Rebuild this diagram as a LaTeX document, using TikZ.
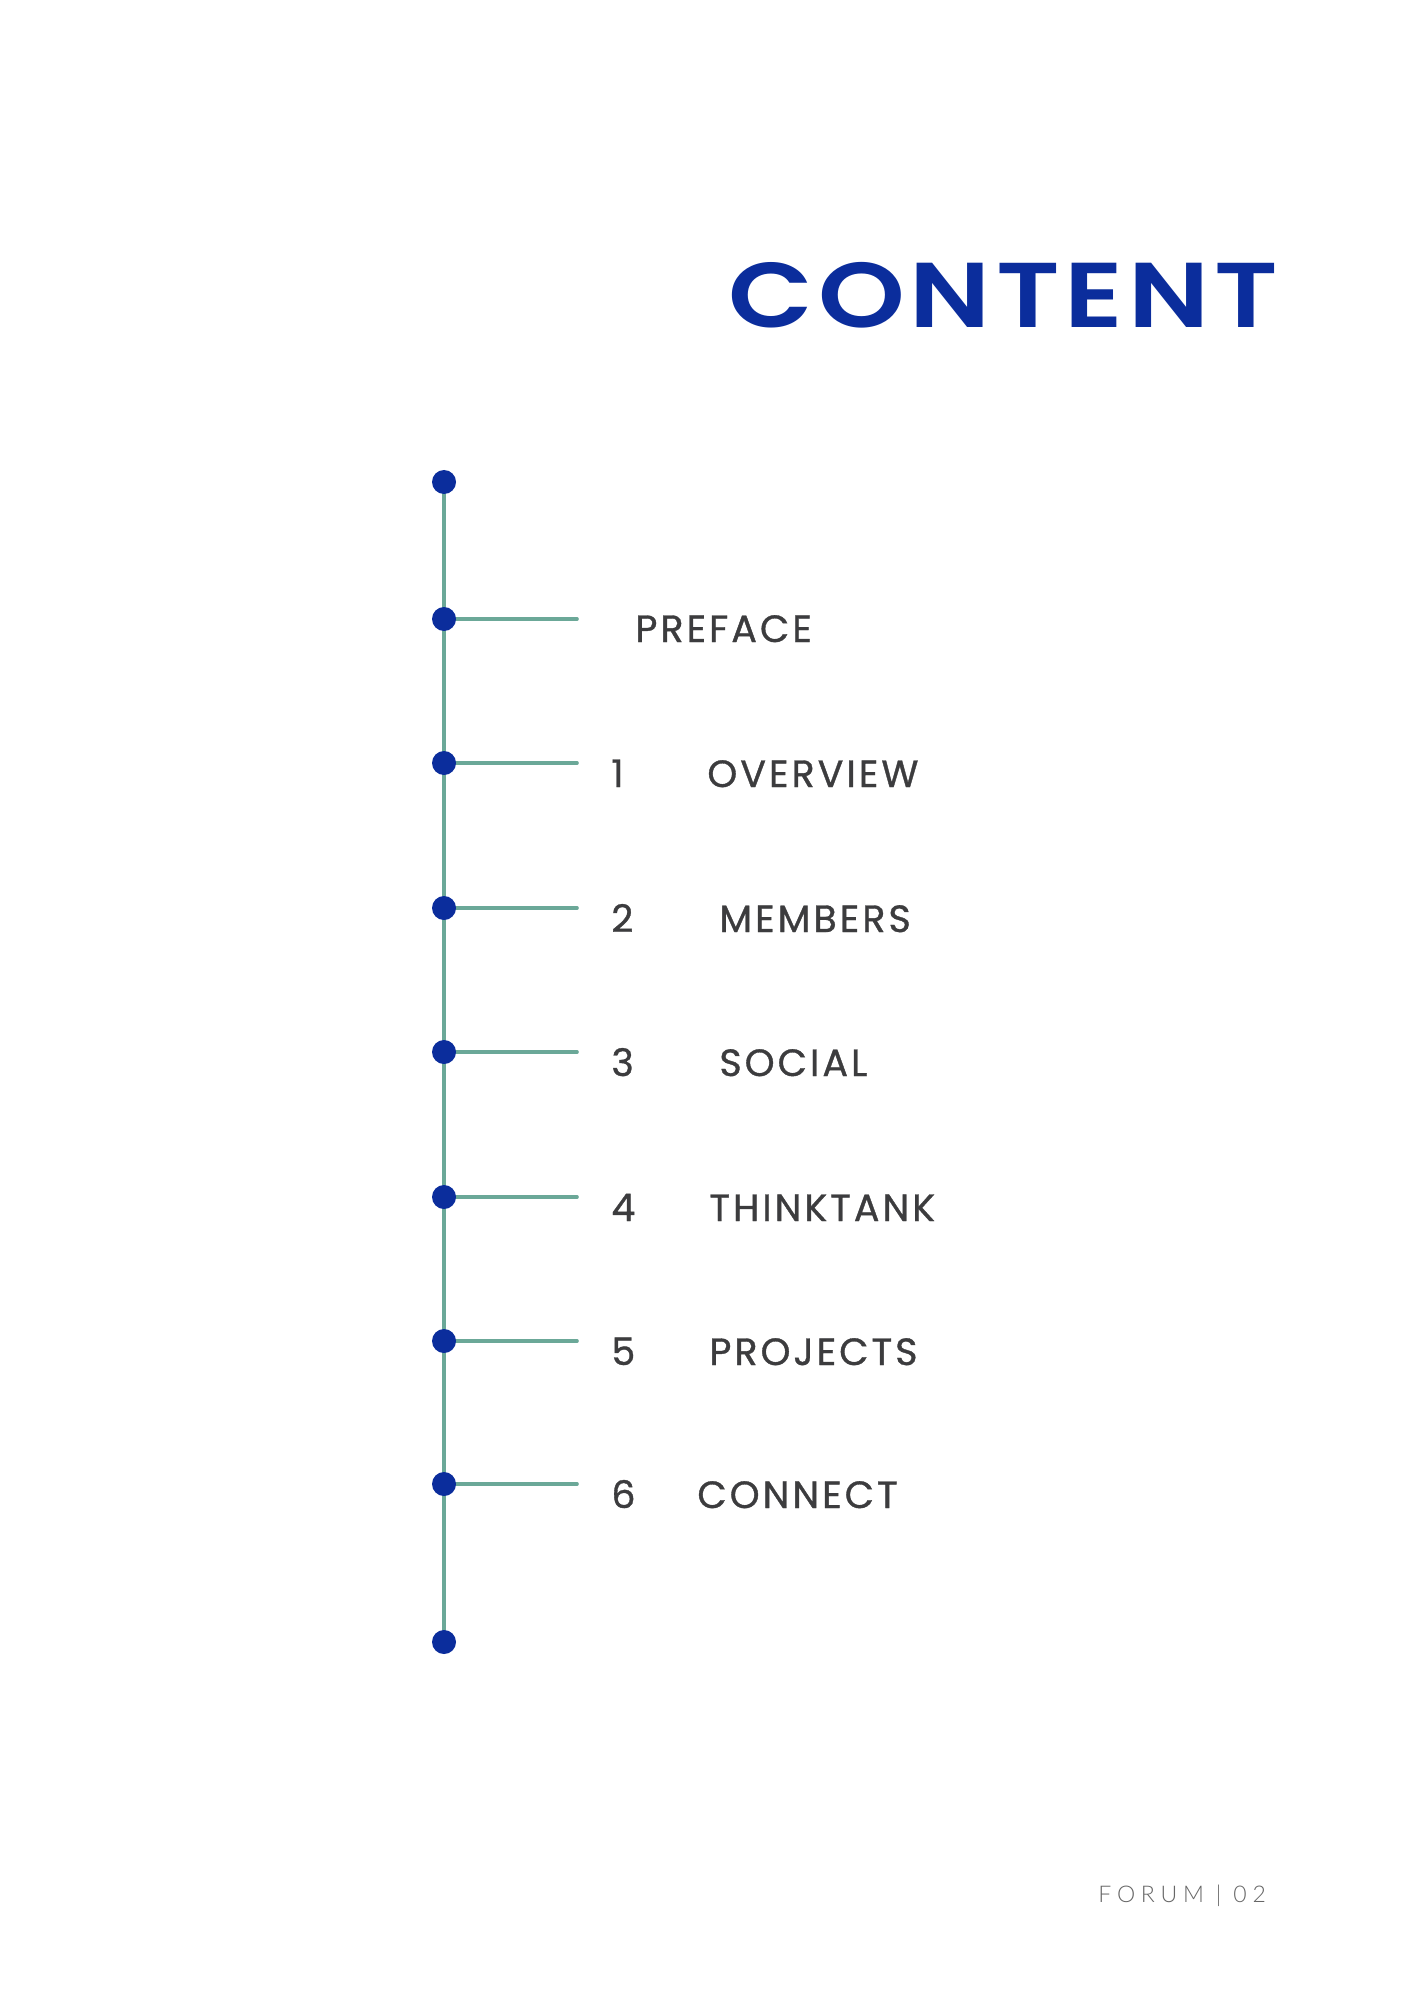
\documentclass[tikz,border=0pt]{standalone}
\usepackage{fontspec}
\setmainfont{Poppins}
\newfontfamily\headfont[LetterSpace=5.5,FakeStretch=1.2]{Poppins SemiBold}
\newfontfamily\itemfont[LetterSpace=8,FakeBold=0.9]{Poppins}
\newfontfamily\footfont[LetterSpace=25]{Lato Light}
\usetikzlibrary{backgrounds}
\definecolor{navy}{HTML}{0B2D9C}
\definecolor{teal}{HTML}{6BA898}
\definecolor{ink}{HTML}{3C3C3E}
\definecolor{foot}{HTML}{666666}
\tikzset{
  dot/.style={circle,fill=navy,inner sep=0,minimum size=12pt},
  stem/.style={draw=teal,line width=1.8pt},
  itemtxt/.style={anchor=base west,inner sep=0,text=ink,font=\itemfont\fontsize{19}{22}\selectfont},
}
\begin{document}
\begin{tikzpicture}[x=0.5pt,y=-0.5pt]
\useasboundingbox (0,0) rectangle (1414,2000);
\node[anchor=base west,inner sep=0,text=navy,font=\headfont\fontsize{46}{50}\selectfont] (title) at (728,328) {CONTENT};
\node[dot] (d0) at (444,482) {};
\node[dot] (d1) at (444,619) {};
\node[dot] (d2) at (444,763) {};
\node[dot] (d3) at (444,908) {};
\node[dot] (d4) at (444,1052) {};
\node[dot] (d5) at (444,1197) {};
\node[dot] (d6) at (444,1341) {};
\node[dot] (d7) at (444,1484) {};
\node[dot] (d8) at (444,1642) {};
\foreach \i/\yy in {1/619,2/763,3/908,4/1052,5/1197,6/1341,7/1484}{
  \coordinate (e\i) at (577,\yy);
}
\begin{scope}[on background layer]
\fill[white] (0,0) rectangle (1414,2000);
\draw[stem] (d0.center) -- (d8.center);
\foreach \i in {1,...,7}{\draw[stem,line cap=round] (d\i.center) -- (e\i);}
\end{scope}
\node[itemtxt] (t1) at (635,642) {PREFACE};
\node[itemtxt] (n2) at (611,787) {1};
\node[itemtxt] (t2) at (707,787) {OVERVIEW};
\node[itemtxt] (n3) at (611,932) {2};
\node[itemtxt] (t3) at (719,932) {MEMBERS};
\node[itemtxt] (n4) at (611,1076) {3};
\node[itemtxt] (t4) at (719,1076) {SOCIAL};
\node[itemtxt] (n5) at (611,1221) {4};
\node[itemtxt] (t5) at (709,1221) {THINKTANK};
\node[itemtxt] (n6) at (611,1365) {5};
\node[itemtxt] (t6) at (709,1365) {PROJECTS};
\node[itemtxt] (n7) at (611,1508) {6};
\node[itemtxt] (t7) at (697,1508) {CONNECT};
\node[anchor=base west,inner sep=0,text=foot,font=\footfont\fontsize{11.5}{13}\selectfont] (footer) at (1098,1902) {FORUM | 02};
\end{tikzpicture}
\end{document}
